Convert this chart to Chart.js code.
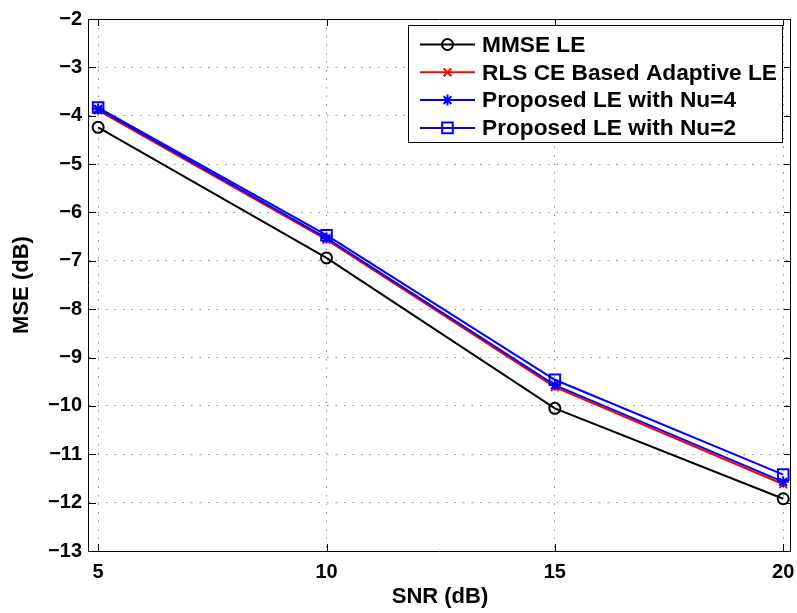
<!DOCTYPE html>
<html>
<head>
<meta charset="utf-8">
<title>MSE vs SNR</title>
<script src="https://cdn.jsdelivr.net/npm/chart.js@4.4.1/dist/chart.umd.min.js"></script>
<style>
  html, body { margin: 0; padding: 0; background: #fff; }
  canvas { display: block; }
</style>
</head>
<body>
<canvas id="mseChart" width="797" height="613"></canvas>
<script>
// SNR points (dB) and measured MSE (dB) for each equalizer
const snr = [5, 10, 15, 20];
const mmseLE = [-4.24, -6.94, -10.05, -11.92];
const rlsLE = [-3.89, -6.56, -9.61, -11.62];
const proposedNu4 = [-3.86, -6.53, -9.57, -11.57];
const proposedNu2 = [-3.83, -6.47, -9.46, -11.42];

const xTicks = [5, 10, 15, 20];
const seriesNames = [
  'MMSE LE',
  'RLS CE Based Adaptive LE',
  'Proposed LE with Nu=4',
  'Proposed LE with Nu=2'
];

const FONT = "'Liberation Sans', Arial, Helvetica, sans-serif";
const colors = ['#000000', '#ff0000', '#0000ff', '#0000ff'];
const markers = ['circle', 'crossRot', 'star', 'rect'];
const markerRadius = [5.5, 5.5, 5.5, 7.5];

const minus = v => (v < 0 ? '\u2212' + Math.abs(v) : String(v));

function makeSeries(i, values) {
  return {
    label: seriesNames[i],
    data: snr.map((s, k) => ({ x: s, y: values[k] })),
    borderColor: colors[i],
    borderWidth: 2,
    pointStyle: markers[i],
    pointRadius: markerRadius[i],
    pointBorderColor: colors[i],
    pointBackgroundColor: 'rgba(0,0,0,0)',
    pointBorderWidth: 2,
    fill: false,
    tension: 0,
    clip: false,
    order: 4 - i
  };
}

// simple marker drawing for the legend samples
function drawMarker(ctx, style, x, y, r) {
  ctx.beginPath();
  if (style === 'circle') {
    ctx.arc(x, y, r, 0, Math.PI * 2);
  } else if (style === 'rect') {
    const s = r * Math.SQRT1_2;
    ctx.rect(x - s, y - s, 2 * s, 2 * s);
  } else if (style === 'crossRot') {
    const d = r * Math.SQRT1_2;
    ctx.moveTo(x - d, y - d); ctx.lineTo(x + d, y + d);
    ctx.moveTo(x - d, y + d); ctx.lineTo(x + d, y - d);
  } else if (style === 'star') {
    const d = r * Math.SQRT1_2;
    ctx.moveTo(x - r, y); ctx.lineTo(x + r, y);
    ctx.moveTo(x, y - r); ctx.lineTo(x, y + r);
    ctx.moveTo(x - d, y - d); ctx.lineTo(x + d, y + d);
    ctx.moveTo(x - d, y + d); ctx.lineTo(x + d, y - d);
  }
  ctx.stroke();
}

// box around the axes with inward tick marks on all four sides
const axesBox = {
  id: 'axesBox',
  afterDatasetsDraw(chart) {
    const { ctx, chartArea: a, scales: { x, y } } = chart;
    const tick = 7;
    ctx.save();
    ctx.strokeStyle = '#000';
    ctx.lineWidth = 1;
    ctx.setLineDash([]);
    ctx.beginPath();
    ctx.rect(a.left - 0.5, a.top + 0.5, a.right - a.left, a.bottom - a.top);
    y.ticks.forEach(t => {
      const py = Math.round(y.getPixelForValue(t.value)) + 0.5;
      ctx.moveTo(a.left, py); ctx.lineTo(a.left + tick, py);
      ctx.moveTo(a.right, py); ctx.lineTo(a.right - tick, py);
    });
    x.ticks.forEach(t => {
      const px = Math.round(x.getPixelForValue(t.value)) + 0.5;
      ctx.moveTo(px, a.bottom); ctx.lineTo(px, a.bottom - tick);
      ctx.moveTo(px, a.top); ctx.lineTo(px, a.top + tick);
    });
    ctx.stroke();
    ctx.restore();
  }
};

// MATLAB-style legend: line sample with marker, boxed, top right
const lineLegend = {
  id: 'lineLegend',
  afterDraw(chart) {
    const ctx = chart.ctx;
    const box = { left: 408.5, top: 25.5, width: 374, height: 117 };
    const rowTop = 44.5, rowStep = 27.8;
    ctx.save();
    ctx.fillStyle = '#fff';
    ctx.strokeStyle = '#000';
    ctx.lineWidth = 1;
    ctx.fillRect(box.left, box.top, box.width, box.height);
    ctx.strokeRect(box.left, box.top, box.width, box.height);
    ctx.font = 'bold 22.7px ' + FONT;
    ctx.textBaseline = 'middle';
    ctx.textAlign = 'left';
    chart.data.datasets.forEach((ds, i) => {
      const cy = rowTop + i * rowStep;
      ctx.strokeStyle = ds.borderColor;
      ctx.lineWidth = 2;
      ctx.beginPath();
      ctx.moveTo(420, cy); ctx.lineTo(475, cy);
      ctx.stroke();
      drawMarker(ctx, ds.pointStyle, 447.5, cy, ds.pointRadius);
      ctx.fillStyle = '#000';
      ctx.fillText(ds.label, 482, cy + 1);
    });
    ctx.restore();
  }
};

Chart.defaults.font.family = FONT;
Chart.defaults.font.weight = 'bold';
Chart.defaults.font.size = 20;
Chart.defaults.color = '#000';

new Chart(document.getElementById('mseChart'), {
  type: 'line',
  data: {
    datasets: [
      makeSeries(0, mmseLE),
      makeSeries(1, rlsLE),
      makeSeries(2, proposedNu4),
      makeSeries(3, proposedNu2)
    ]
  },
  options: {
    responsive: false,
    devicePixelRatio: 1,
    animation: false,
    events: [],
    layout: { autoPadding: false, padding: { top: 16, right: 6, bottom: 0, left: 0 } },
    plugins: {
      legend: { display: false },
      tooltip: { enabled: false }
    },
    scales: {
      x: {
        type: 'linear',
        min: 4.8,
        max: 20.17,
        afterBuildTicks: scale => { scale.ticks = xTicks.map(v => ({ value: v })); },
        afterFit: scale => {
          scale.height = 62;
          // let the end labels overhang instead of shrinking the plot
          scale.paddingLeft = 0;
          scale.paddingRight = 0;
        },
        ticks: { padding: 9, callback: v => minus(v), maxRotation: 0 },
        grid: { color: '#8c8c8c', lineWidth: 1, drawTicks: false },
        border: { display: false, dash: [1.5, 7] },
        title: {
          display: true,
          text: 'SNR (dB)',
          font: { size: 22, weight: 'bold' },
          padding: { top: 0, bottom: 3 }
        }
      },
      y: {
        min: -13,
        max: -2,
        afterFit: scale => { scale.width = 89; },
        ticks: { stepSize: 1, padding: 7, callback: v => minus(v) },
        grid: { color: '#8c8c8c', lineWidth: 1, drawTicks: false },
        border: { display: false, dash: [1.5, 7] },
        title: {
          display: true,
          text: 'MSE (dB)',
          font: { size: 22, weight: 'bold' },
          padding: { top: 9, bottom: 0 }
        }
      }
    }
  },
  plugins: [axesBox, lineLegend]
});
</script>
</body>
</html>
